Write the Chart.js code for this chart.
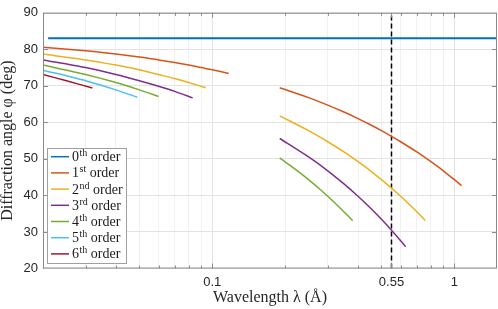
<!DOCTYPE html>
<html>
<head>
<meta charset="utf-8">
<script src="https://cdn.jsdelivr.net/npm/chart.js@4/dist/chart.umd.min.js"></script>
<style>
  html, body { margin: 0; padding: 0; background: #fff; }
</style>
</head>
<body>
<canvas id="chart" width="498" height="309"></canvas>
<script>
// wavelength (Angstrom) and diffraction angle (deg)
const lam0 = [0.021, 1.5];
const phi0 = [83, 83];

const lam1a = [0.02, 0.03, 0.04, 0.05, 0.06, 0.07, 0.08, 0.09, 0.1, 0.117];
const phi1a = [80.6, 79.6, 78.7, 77.9, 77.1, 76.4, 75.7, 75.0, 74.4, 73.4];
const lam1b = [0.19, 0.25, 0.3, 0.35, 0.4, 0.45, 0.5, 0.55, 0.6, 0.7, 0.8, 0.9, 1.0, 1.07];
const phi1b = [69.5, 66.79, 64.74, 62.83, 61.04, 59.35, 57.73, 56.18, 54.7, 51.9, 49.23, 46.75, 44.32, 42.69];

const lam2a = [0.02, 0.03, 0.04, 0.05, 0.06, 0.07, 0.08, 0.094];
const phi2a = [78.7, 77.1, 75.7, 74.4, 73.1, 72.0, 70.9, 69.5];
const lam2b = [0.19, 0.25, 0.3, 0.35, 0.4, 0.45, 0.5, 0.55, 0.6, 0.65, 0.7, 0.758];
const phi2b = [61.78, 57.73, 54.7, 51.9, 49.23, 46.75, 44.32, 42.0, 39.77, 37.61, 35.52, 33.15];

const lam3a = [0.02, 0.03, 0.04, 0.05, 0.06, 0.07, 0.083];
const phi3a = [77.1, 75.0, 73.1, 71.4, 69.9, 68.5, 66.7];
const lam3b = [0.19, 0.25, 0.3, 0.35, 0.4, 0.45, 0.5, 0.55, 0.6, 0.629];
const phi3b = [55.59, 50.54, 46.75, 43.15, 39.77, 36.56, 33.47, 30.49, 27.6, 25.96];

const lam4a = [0.02, 0.03, 0.04, 0.05, 0.06];
const phi4a = [75.7, 73.1, 70.9, 68.9, 67.1];
const lam4b = [0.19, 0.22, 0.25, 0.28, 0.3, 0.33, 0.36, 0.38];
const phi4b = [50.27, 47.21, 44.32, 41.55, 39.77, 37.19, 34.69, 33.07];

const lam5 = [0.02, 0.03, 0.04, 0.049];
const phi5 = [74.3, 71.4, 68.9, 66.9];

const lam6 = [0.02, 0.025, 0.032];
const phi6 = [73.1, 71.4, 69.4];

const lamMarker = 0.55;

const orderNum = ['0', '1', '2', '3', '4', '5', '6'];
const orderSup = ['th', 'st', 'nd', 'rd', 'th', 'th', 'th'];
const colors = ['#0072BD', '#D95319', '#EDB120', '#7E2F8E', '#77AC30', '#4DBEEE', '#A2142F'];

const xTickVals = [0.02, 0.03, 0.04, 0.05, 0.06, 0.07, 0.08, 0.09, 0.1,
                   0.2, 0.3, 0.4, 0.5, 0.55, 0.6, 0.7, 0.8, 0.9, 1];
const xLabelVals = [0.1, 0.55, 1];

function pts(xs, ys) {
    return xs.map((x, i) => ({ x: x, y: ys[i] }));
}

// two branches joined with a null point so the line breaks
function branches(xa, ya, xb, yb) {
    return pts(xa, ya).concat([{ x: 0.15, y: null }], pts(xb, yb));
}

const series = [
    pts(lam0, phi0),
    branches(lam1a, phi1a, lam1b, phi1b),
    branches(lam2a, phi2a, lam2b, phi2b),
    branches(lam3a, phi3a, lam3b, phi3b),
    branches(lam4a, phi4a, lam4b, phi4b),
    pts(lam5, phi5),
    pts(lam6, phi6)
];

const datasets = series.map((d, i) => ({
    label: orderNum[i] + orderSup[i] + ' order',
    data: d,
    borderColor: colors[i],
    borderWidth: i === 0 ? 2 : 1.5,
    pointRadius: 0,
    fill: false,
    spanGaps: false,
    tension: 0.25
}));

datasets.push({
    label: 'marker',
    data: [{ x: lamMarker, y: 20 }, { x: lamMarker, y: 90 }],
    borderColor: '#000',
    borderWidth: 1.5,
    borderDash: [5, 3],
    pointRadius: 0,
    fill: false
});

// box, inward ticks and legend drawn on top of the plot
const framePlugin = {
    id: 'frame',
    afterDraw(chart) {
        const ctx = chart.ctx;
        const a = chart.chartArea;
        const xs = chart.scales.x;
        const ys = chart.scales.y;
        ctx.save();
        ctx.strokeStyle = '#8a8a8a';
        ctx.lineWidth = 1;
        ctx.strokeRect(a.left + 0.5, a.top + 0.5, a.right - a.left - 1, a.bottom - a.top - 1);

        ctx.beginPath();
        xTickVals.forEach(v => {
            const px = Math.round(xs.getPixelForValue(v)) + 0.5;
            const len = xLabelVals.includes(v) ? 5 : 3;
            ctx.moveTo(px, a.bottom);
            ctx.lineTo(px, a.bottom - len);
            ctx.moveTo(px, a.top);
            ctx.lineTo(px, a.top + len);
        });
        for (let v = 30; v < 90; v += 10) {
            const py = Math.round(ys.getPixelForValue(v)) + 0.5;
            ctx.moveTo(a.left, py);
            ctx.lineTo(a.left + 5, py);
            ctx.moveTo(a.right, py);
            ctx.lineTo(a.right - 5, py);
        }
        ctx.stroke();

        // legend
        const bx = 47, by = 148, bw = 79, bh = 115;
        ctx.fillStyle = '#fff';
        ctx.fillRect(bx, by, bw, bh);
        ctx.strokeStyle = '#a0a0a0';
        ctx.strokeRect(bx + 0.5, by + 0.5, bw, bh);
        ctx.textBaseline = 'alphabetic';
        ctx.textAlign = 'left';
        for (let i = 0; i < orderNum.length; i++) {
            const cy = 156.7 + i * 16.2;
            ctx.strokeStyle = colors[i];
            ctx.lineWidth = 1.5;
            ctx.beginPath();
            ctx.moveTo(51, cy);
            ctx.lineTo(69, cy);
            ctx.stroke();
            ctx.fillStyle = '#1a1a1a';
            let tx = 72;
            const base = cy + 4.5;
            ctx.font = '14px "Liberation Serif"';
            ctx.fillText(orderNum[i], tx, base);
            tx += ctx.measureText(orderNum[i]).width;
            ctx.font = '10px "Liberation Serif"';
            ctx.fillText(orderSup[i], tx + 0.5, base - 5);
            tx += ctx.measureText(orderSup[i]).width + 0.5;
            ctx.font = '14px "Liberation Serif"';
            ctx.fillText(' order', tx, base);
        }
        ctx.restore();
    }
};

const ctx = document.getElementById('chart').getContext('2d');
new Chart(ctx, {
    type: 'line',
    data: { datasets: datasets },
    options: {
        responsive: false,
        devicePixelRatio: 1,
        animation: false,
        layout: { padding: { top: 6, right: 1, left: 0, bottom: 0 } },
        plugins: {
            legend: { display: false },
            tooltip: { enabled: false }
        },
        scales: {
            x: {
                type: 'logarithmic',
                min: 0.02,
                max: 1.5,
                afterBuildTicks: scale => {
                    scale.ticks = xTickVals.map(v => ({ value: v }));
                },
                afterFit: scale => { scale.height = 40.5; },
                border: { display: false },
                grid: {
                    drawTicks: false,
                    color: c => (c.tick && xLabelVals.includes(c.tick.value)) ? '#e3e3e3' : '#f1f1f1',
                    lineWidth: 1
                },
                ticks: {
                    autoSkip: false,
                    maxRotation: 0,
                    minRotation: 0,
                    padding: 6,
                    color: '#262626',
                    font: { family: '"Liberation Sans"', size: 13 },
                    callback: v => xLabelVals.includes(v) ? String(v) : ''
                },
                title: {
                    display: true,
                    text: 'Wavelength λ (Å)',
                    color: '#262626',
                    font: { family: '"Liberation Serif"', size: 16, lineHeight: 1.0 },
                    padding: { top: 0, bottom: 3 }
                }
            },
            y: {
                min: 20,
                max: 90,
                afterFit: scale => { scale.width = 43; },
                border: { display: false },
                grid: { drawTicks: false, color: '#e3e3e3', lineWidth: 1 },
                ticks: {
                    stepSize: 10,
                    padding: 5,
                    color: '#262626',
                    font: { family: '"Liberation Sans"', size: 13 }
                },
                title: {
                    display: true,
                    text: 'Diffraction angle φ (deg)',
                    color: '#262626',
                    font: { family: '"Liberation Serif"', size: 16, lineHeight: 1.0 },
                    padding: { top: 0, bottom: 0 }
                }
            }
        }
    },
    plugins: [framePlugin]
});
</script>
</body>
</html>
